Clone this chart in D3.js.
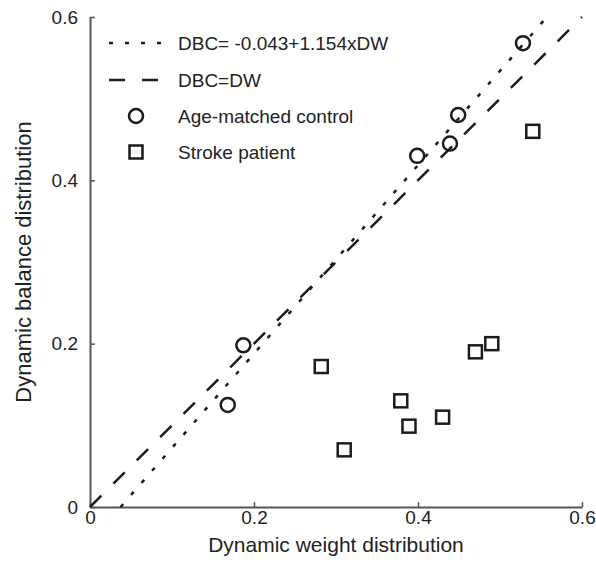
<!DOCTYPE html>
<html><head><meta charset="utf-8">
<script src="https://cdn.jsdelivr.net/npm/d3@7"></script>
<style>body{margin:0;background:#fff;} svg{display:block;}</style>
</head><body>
<svg id="c" width="596" height="564"></svg>
<script>
const xTicks = [0, 0.2, 0.4, 0.6];
const yTicks = [0, 0.2, 0.4, 0.6];
const controlX = [0.168, 0.187, 0.399, 0.439, 0.449, 0.528];
const controlY = [0.125, 0.198, 0.430, 0.445, 0.480, 0.568];
const strokeX = [0.282, 0.310, 0.379, 0.389, 0.430, 0.470, 0.490, 0.540];
const strokeY = [0.172, 0.070, 0.130, 0.099, 0.110, 0.190, 0.200, 0.460];
const fitIntercept = -0.043, fitSlope = 1.154;
const legendLabels = ["DBC= -0.043+1.154xDW", "DBC=DW", "Age-matched control", "Stroke patient"];
const xTitle = "Dynamic weight distribution";
const yTitle = "Dynamic balance distribution";

const FONT = "'Liberation Sans', Arial, sans-serif";
const svg = d3.select("#c");
const x = d3.scaleLinear().domain([0, 0.6]).range([90, 582]);
const y = d3.scaleLinear().domain([0, 0.6]).range([507, 17]);
const ink = "#1c1c1c", axisCol = "#555", txt = "#222";

// axes
const fmt = d => d === 0 ? "0" : d3.format(".1f")(d);
const xa = svg.append("g").attr("transform", `translate(0,${y(0)})`)
  .call(d3.axisBottom(x).tickValues(xTicks).tickSizeInner(-5).tickSizeOuter(0).tickPadding(4).tickFormat(fmt));
const ya = svg.append("g").attr("transform", `translate(${x(0)},0)`)
  .call(d3.axisLeft(y).tickValues(yTicks).tickSizeInner(-5).tickSizeOuter(0).tickPadding(12).tickFormat(fmt));
[xa, ya].forEach(a => {
  a.select(".domain").attr("stroke", axisCol).attr("stroke-width", 2);
  a.selectAll(".tick line").attr("stroke", axisCol).attr("stroke-width", 1.5);
  a.selectAll("text").attr("fill", txt).style("font-family", FONT).style("font-size", "19px");
});

// lines
const fitLine = d3.line().x(d => x(d[0])).y(d => y(d[1]));
const x0 = -fitIntercept / fitSlope, x1 = (0.6 - fitIntercept) / fitSlope;
svg.append("path").attr("d", fitLine([[x0, 0], [x1, fitIntercept + fitSlope * x1]]))
  .attr("fill", "none").attr("stroke", ink).attr("stroke-width", 2.5).attr("stroke-dasharray", "4,12");
svg.append("path").attr("d", fitLine([[0, 0], [0.6, 0.6]]))
  .attr("fill", "none").attr("stroke", ink).attr("stroke-width", 2.5).attr("stroke-dasharray", "16,17");

// markers
svg.append("g").selectAll("circle").data(controlX.map((v, i) => [v, controlY[i]])).join("circle")
  .attr("cx", d => x(d[0])).attr("cy", d => y(d[1])).attr("r", 7)
  .attr("fill", "none").attr("stroke", ink).attr("stroke-width", 2.5);
const sq = 13;
svg.append("g").selectAll("rect").data(strokeX.map((v, i) => [v, strokeY[i]])).join("rect")
  .attr("x", d => x(d[0]) - sq / 2).attr("y", d => y(d[1]) - sq / 2).attr("width", sq).attr("height", sq)
  .attr("fill", "none").attr("stroke", ink).attr("stroke-width", 2.5);

// legend
const lg = svg.append("g");
const ly = [43, 80, 116, 152];
lg.append("line").attr("x1", 109).attr("x2", 162).attr("y1", ly[0]).attr("y2", ly[0])
  .attr("stroke", ink).attr("stroke-width", 2.5).attr("stroke-dasharray", "4,12");
lg.append("line").attr("x1", 109).attr("x2", 158).attr("y1", ly[1]).attr("y2", ly[1])
  .attr("stroke", ink).attr("stroke-width", 2.5).attr("stroke-dasharray", "16,17");
lg.append("circle").attr("cx", 136).attr("cy", ly[2]).attr("r", 7).attr("fill", "none").attr("stroke", ink).attr("stroke-width", 2.5);
lg.append("rect").attr("x", 136 - sq / 2).attr("y", ly[3] - sq / 2).attr("width", sq).attr("height", sq).attr("fill", "none").attr("stroke", ink).attr("stroke-width", 2.5);
lg.selectAll("text").data(legendLabels).join("text")
  .attr("x", 178).attr("y", (d, i) => ly[i]).attr("dy", "0.35em")
  .attr("fill", txt).style("font-family", FONT).style("font-size", "19px").text(d => d);

// titles
svg.append("text").attr("x", (x(0) + x(0.6)) / 2).attr("y", 552).attr("text-anchor", "middle")
  .attr("fill", txt).style("font-family", FONT).style("font-size", "21px").text(xTitle);
svg.append("text").attr("transform", `translate(31,${(y(0) + y(0.6)) / 2}) rotate(-90)`).attr("text-anchor", "middle")
  .attr("fill", txt).style("font-family", FONT).style("font-size", "22px").text(yTitle);
</script>
</body></html>
